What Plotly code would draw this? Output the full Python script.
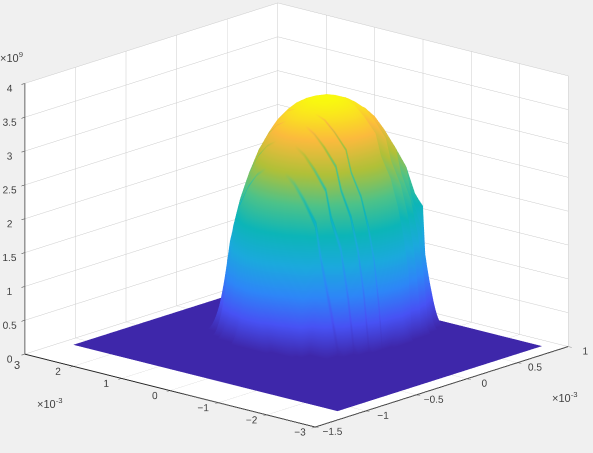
import plotly.graph_objects as go

# axes are in units of 1e-3 (x, y) and 1e9 (z)
x_vals = [-1.15, -0.46, -0.42, -0.38, -0.3, -0.2, -0.19, -0.18, -0.1, -0.09, -0.08, 0.0, 0.01, 0.02, 0.1, 0.11, 0.12,
          0.2, 0.3, 0.4, 0.405, 0.5, 0.505, 0.6, 0.605, 0.7, 0.705, 0.8, 0.87]
y_vals = [-2.73, -1.08, -1.02, -0.95, -0.85, -0.73, -0.58, -0.38, -0.27, -0.03, 0.17, 0.37, 0.57,
          0.75, 0.94, 1.12, 1.3, 1.48, 1.62, 1.76, 1.87, 1.96, 2.02, 2.08, 2.73]

row_floor = [0.02] * 29
row_1 = [0.02, 0.02, 0.75, 1.32, 1.98, 2.51, 2.55, 2.58, 2.89, 2.92, 2.94, 3.14, 3.16, 3.18, 3.28, 3.29, 3.30,
         3.36, 3.39, 3.36, 3.36, 3.28, 3.28, 3.14, 3.14, 2.89, 2.89, 2.51, 2.16]
row_2 = [0.02, 0.02, 0.64, 1.25, 1.93, 2.48, 2.52, 2.55, 2.85, 2.88, 2.90, 3.11, 3.13, 3.15, 3.25, 3.26, 3.27,
         3.34, 3.37, 3.34, 3.34, 3.25, 3.25, 3.11, 3.11, 2.85, 2.85, 2.48, 2.12]
row_3 = [0.02, 0.02, 0.02, 1.01, 1.78, 2.36, 2.40, 2.44, 2.75, 2.78, 2.80, 3.02, 3.04, 3.05, 3.19, 3.20, 3.21,
         3.28, 3.30, 3.28, 3.28, 3.19, 3.19, 3.02, 3.02, 2.75, 2.75, 2.36, 1.98]
row_4 = [0.02, 0.02, 0.02, 0.41, 1.51, 2.15, 2.19, 2.23, 2.57, 2.60, 2.63, 2.86, 2.88, 2.90, 3.05, 3.06, 3.07,
         3.15, 3.19, 3.15, 3.15, 3.05, 3.05, 2.86, 2.86, 2.57, 2.57, 2.15, 1.85]
row_5 = [0.02, 0.02, 0.02, 0.02, 1.02, 1.83, 1.88, 1.93, 2.31, 2.34, 2.37, 2.62, 2.64, 2.66, 2.83, 2.84, 2.85,
         2.94, 2.98, 2.94, 2.94, 2.83, 2.83, 2.62, 2.62, 2.31, 2.31, 1.83, 1.65]
row_6 = [0.02, 0.02, 0.02, 0.02, 0.02, 1.32, 1.38, 1.44, 1.90, 1.94, 1.98, 2.28, 2.30, 2.33, 2.51, 2.52, 2.53,
         2.63, 2.68, 2.63, 2.63, 2.51, 2.51, 2.28, 2.28, 1.90, 1.90, 0.90, 0.02]
row_7 = [0.02, 0.02, 0.02, 0.02, 0.02, 0.58, 0.67, 0.76, 1.48, 1.52, 1.57, 1.92, 1.95, 1.97, 2.19, 2.20, 2.22,
         2.33, 2.38, 2.33, 2.33, 2.19, 2.19, 1.92, 1.92, 1.48, 1.48, 0.02, 0.02]
row_8 = [0.02, 0.02, 0.02, 0.02, 0.02, 0.02, 0.10, 0.17, 0.77, 0.84, 0.90, 1.43, 1.46, 1.50, 1.76, 1.78, 1.80,
         1.94, 1.99, 1.94, 1.94, 1.76, 1.76, 1.43, 1.43, 0.77, 0.77, 0.02, 0.02]
row_9 = [0.02, 0.02, 0.02, 0.02, 0.02, 0.02, 0.02, 0.02, 0.02, 0.10, 0.17, 0.79, 0.84, 0.89, 1.29, 1.31, 1.33,
         1.51, 1.58, 1.51, 1.51, 1.29, 1.29, 0.79, 0.79, 0.02, 0.02, 0.02, 0.02]
row_10 = [0.02, 0.02, 0.02, 0.02, 0.02, 0.02, 0.02, 0.02, 0.02, 0.02, 0.02, 0.02, 0.08, 0.14, 0.62, 0.66, 0.70,
          1.0, 1.09, 1.0, 1.0, 0.62, 0.62, 0.02, 0.02, 0.02, 0.02, 0.02, 0.02]
row_11 = [0.02, 0.02, 0.02, 0.02, 0.02, 0.02, 0.02, 0.02, 0.02, 0.02, 0.02, 0.02, 0.02, 0.02, 0.02, 0.02, 0.02,
          0.02, 0.51, 0.02, 0.02, 0.02, 0.02, 0.02, 0.02, 0.02, 0.02, 0.02, 0.02]

z_vals = [row_floor, row_floor, row_11, row_10, row_9, row_8, row_7, row_6, row_5, row_4, row_3, row_2, row_1,
          row_2, row_3, row_4, row_5, row_6, row_7, row_8, row_9, row_10, row_11, row_floor, row_floor]

# darker streaks along x = const, they fade out towards the top of the dome
col_shade = [1, 1, 1, 1, 1, 1, 0.8, 1, 1, 0.8, 1, 1, 0.8, 1, 1, 0.82, 1, 1, 1, 1, 0.95, 1, 0.95, 1, 0.94, 1, 0.94, 1, 1]
row_fade = [1, 1, 1, 1, 1, 1, 1, 1, 1, 0.7, 0.35, 0, 0, 0, 0.35, 0.7, 1, 1, 1, 1, 1, 1, 1, 1, 1]

color_vals = [[z * (1 - f * (1 - s)) for z, s in zip(row, col_shade)] for row, f in zip(z_vals, row_fade)]

y_ticks = [-3, -2, -1, 0, 1, 2, 3]
y_ticktext = ["−3", "−2", "−1", "0", "1", "2", ""]

parula = [[0, "#3e26a8"], [0.125, "#4752f4"], [0.25, "#2d87f7"], [0.375, "#1ba9dd"],
          [0.5, "#0cb5b8"], [0.625, "#4cc28a"], [0.75, "#b0c038"], [0.875, "#fbba3d"], [1, "#f9fb0e"]]

tick_font = dict(family="Liberation Sans", size=11, color="#404040")


def axis(rng, dtick):
    return dict(range=rng, dtick=dtick, title="", showbackground=True, backgroundcolor="white",
                gridcolor="#cccccc", gridwidth=1, zeroline=False, showline=True, linecolor="#262626",
                linewidth=2, ticks="outside", ticklen=5, tickcolor="#262626", tickfont=tick_font,
                tickangle=0, showspikes=False)


fig = go.Figure(go.Surface(x=x_vals, y=y_vals, z=z_vals, surfacecolor=color_vals, colorscale=parula, cmin=0, cmax=3.39,
                           showscale=False, lighting=dict(ambient=1, diffuse=0, specular=0, roughness=1, fresnel=0)))

y_axis = axis([-3, 3], 1)
y_axis.update(tickmode="array", tickvals=y_ticks, ticktext=y_ticktext)

fig.update_layout(
    width=593, height=453, margin=dict(l=0, r=0, t=0, b=0), paper_bgcolor="#f0f0f0",
    scene=dict(
        domain=dict(x=[0, 1], y=[0, 1]),
        xaxis=axis([-1.5, 1], 0.5), yaxis=y_axis, zaxis=axis([0, 4], 0.5),
        aspectmode="manual", aspectratio=dict(x=1.682, y=1.715, z=1.246),
        camera=dict(projection=dict(type="orthographic"), eye=dict(x=-1.165, y=-1.035, z=0.406),
                    center=dict(x=0, y=0, z=-0.053), up=dict(x=0, y=0, z=1)),
    ),
    annotations=[
        dict(text="×10<sup>9</sup>", x=-0.003, y=0.874, xref="paper", yref="paper", showarrow=False, xanchor="left", yanchor="middle", font=tick_font),
        dict(text="×10<sup>-3</sup>", x=0.059, y=0.11, xref="paper", yref="paper", showarrow=False, xanchor="left", yanchor="middle", font=tick_font),
        dict(text="×10<sup>-3</sup>", x=0.927, y=0.124, xref="paper", yref="paper", showarrow=False, xanchor="left", yanchor="middle", font=tick_font),
        dict(text="3", x=0.02, y=0.194, xref="paper", yref="paper", showarrow=False, yanchor="middle", font=tick_font),
    ],
)

fig.write_html("out.html", config=dict(displayModeBar=False),
               post_script="document.body.style.margin='0';document.body.style.background='#f0f0f0';")
